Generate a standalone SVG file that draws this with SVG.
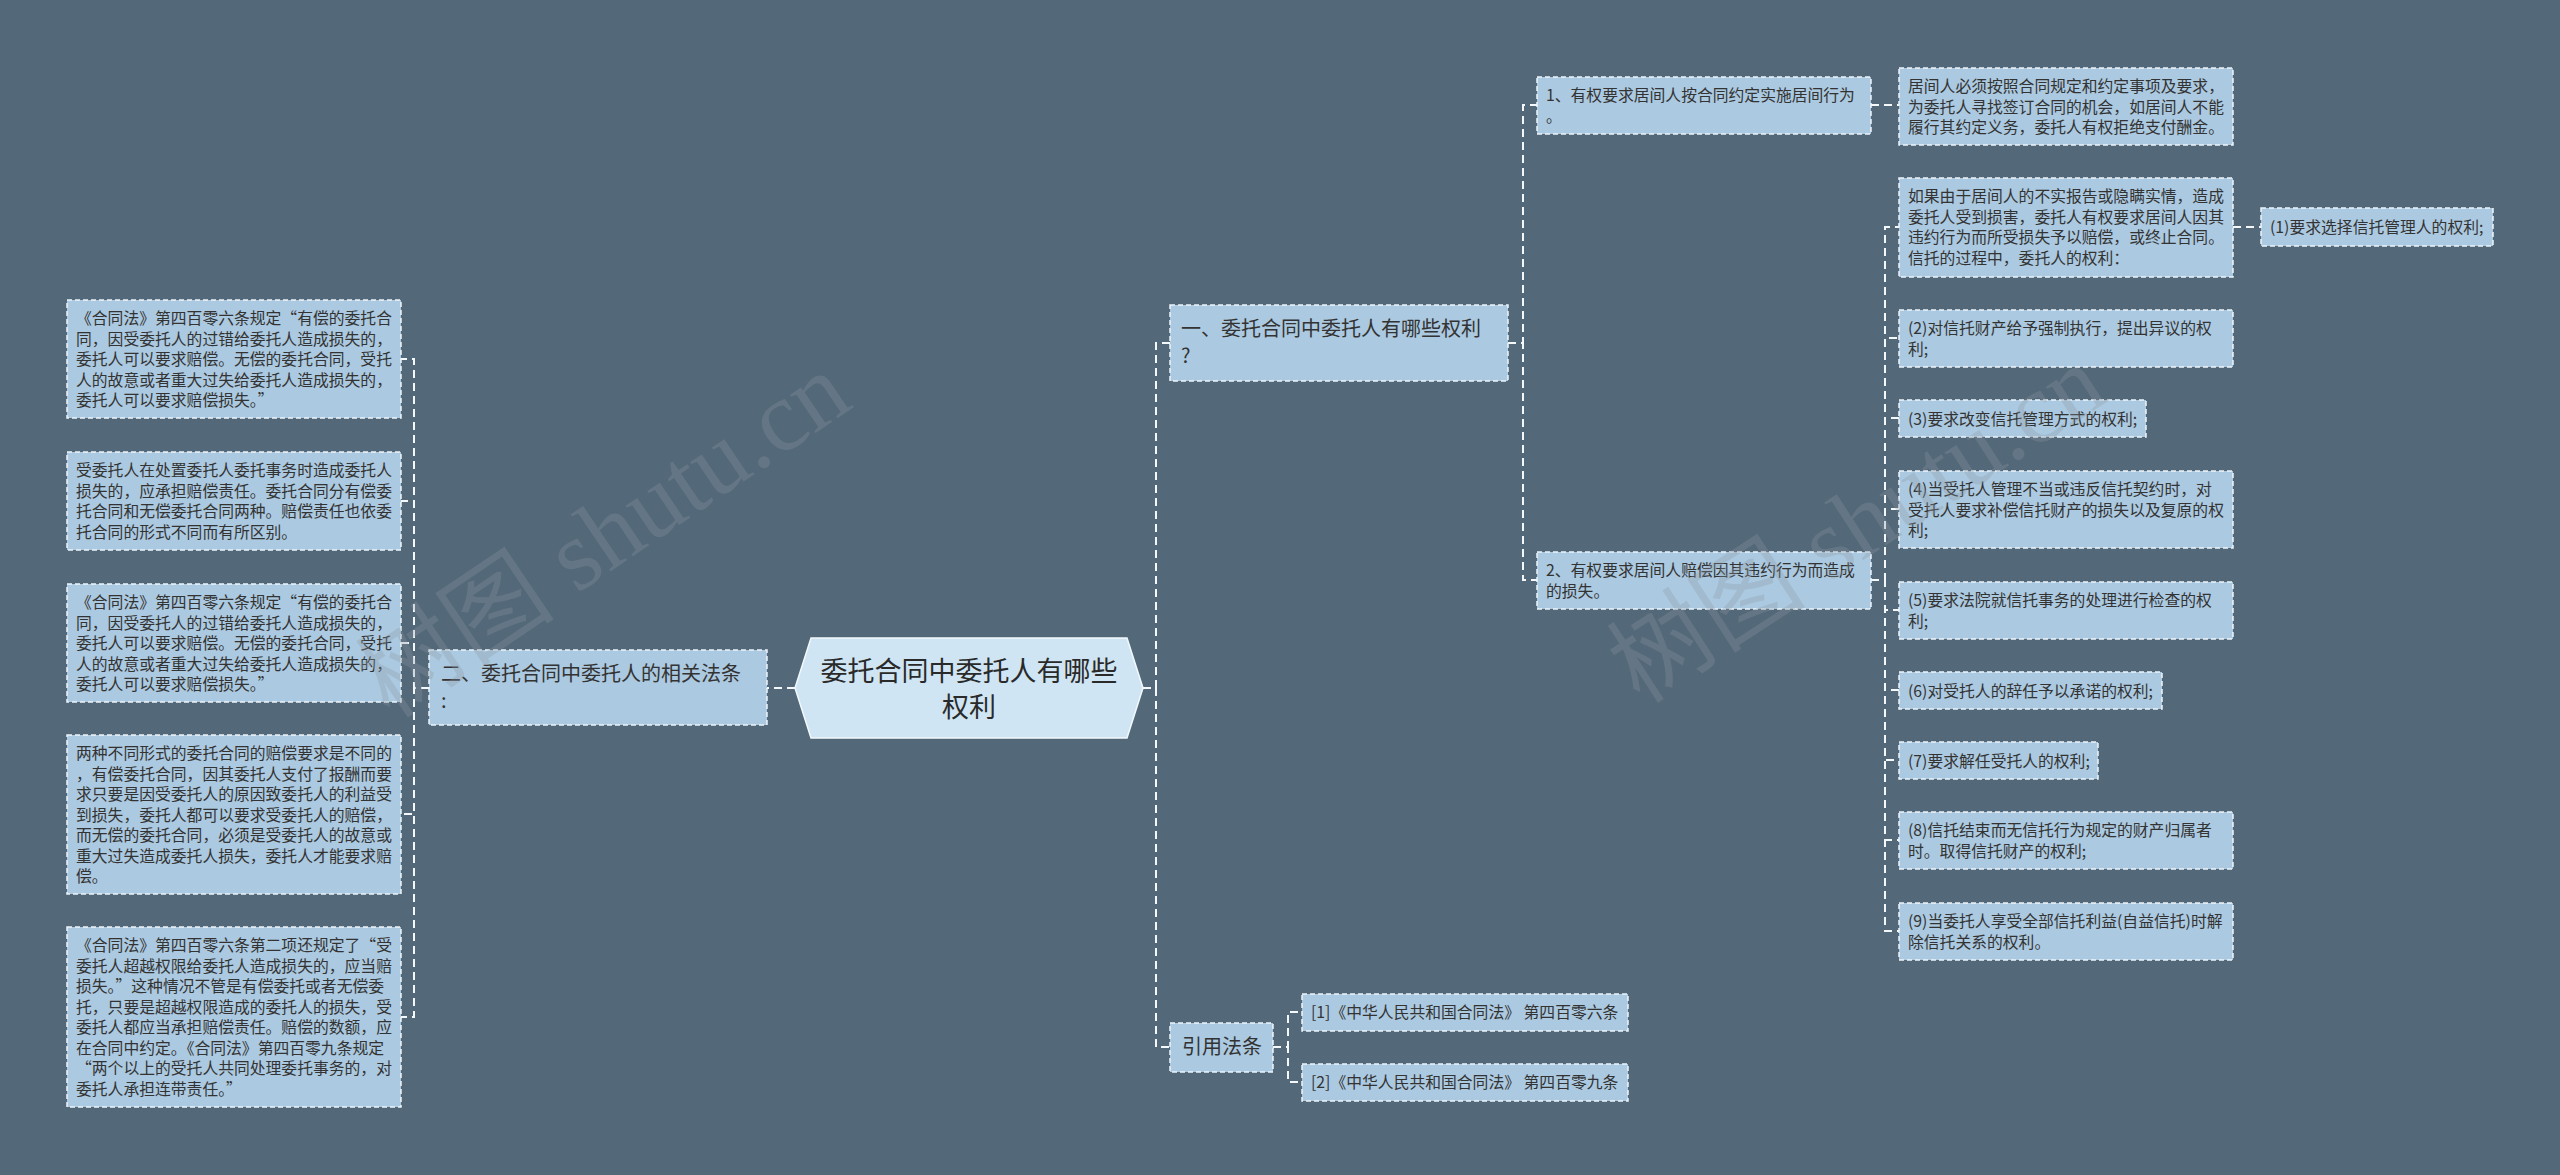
<svg xmlns="http://www.w3.org/2000/svg" width="2560" height="1175" viewBox="0 0 2560 1175">
<style>
.bg{fill:#536878}
.box{fill:#abc9e0;stroke:#eef4f9;stroke-width:1.5;stroke-dasharray:5 3}
.root{fill:#cfe5f3;stroke:#f2f8fc;stroke-width:1.5}
.t{font-family:"Noto Sans CJK SC","Noto Sans",sans-serif;fill:#333333}
.leaf{font-size:15.8px}
.ref{font-size:15.8px}
.br{font-size:20px}
.rt{font-size:27px;fill:#2a2a2a}
.conn path{fill:none;stroke:#f4f8fb;stroke-width:2;stroke-dasharray:8 5}
.wm{font-family:"Liberation Serif","Noto Sans CJK SC",serif;font-size:100px;fill:#8d99a3;opacity:0.3}
</style>
<rect class="bg" x="0" y="0" width="2560" height="1175"/>

<g id="connectors" class="conn">
<path d="M795,688 H767"/>
<path d="M429,688 H414 V359 H401"/>
<path d="M429,688 H414 V501 H401"/>
<path d="M429,688 H414 V643 H401"/>
<path d="M429,688 H414 V814 H401"/>
<path d="M429,688 H414 V1017 H401"/>
<path d="M1143,688 H1156 V343 H1170"/>
<path d="M1143,688 H1156 V1047 H1170"/>
<path d="M1508,343 H1523 V105 H1537"/>
<path d="M1508,343 H1523 V580 H1537"/>
<path d="M1871,105 H1899"/>
<path d="M1871,580 H1885 V227 H1899"/>
<path d="M1871,580 H1885 V338 H1899"/>
<path d="M1871,580 H1885 V418 H1899"/>
<path d="M1871,580 H1885 V509 H1899"/>
<path d="M1871,580 H1885 V610 H1899"/>
<path d="M1871,580 H1885 V690 H1899"/>
<path d="M1871,580 H1885 V760 H1899"/>
<path d="M1871,580 H1885 V840 H1899"/>
<path d="M1871,580 H1885 V931 H1899"/>
<path d="M2233,227 H2261"/>
<path d="M1273,1047 H1288 V1012 H1302"/>
<path d="M1273,1047 H1288 V1082 H1302"/>
</g>

<g id="root">
<polygon class="root" points="795,688 811,638 1127,638 1143,688 1127,738 811,738"/>
<text class="t rt" text-anchor="middle"><tspan x="969" y="681">委托合同中委托人有哪些</tspan><tspan x="969" y="717">权利</tspan></text>
</g>

<g id="branch-left">
<rect class="box" x="429" y="650" width="338" height="75"/>
<text class="t br"><tspan x="441" y="681">二、委托合同中委托人的相关法条</tspan><tspan x="441" y="708">:</tspan></text>
</g>

<g id="left-leaf-1">
<rect class="box" x="67" y="300" width="334" height="118"/>
<text class="t leaf"><tspan x="76" y="324">《合同法》第四百零六条规定“有偿的委托合</tspan><tspan x="76" y="344.5">同，因受委托人的过错给委托人造成损失的，</tspan><tspan x="76" y="365">委托人可以要求赔偿。无偿的委托合同，受托</tspan><tspan x="76" y="385.5">人的故意或者重大过失给委托人造成损失的，</tspan><tspan x="76" y="406">委托人可以要求赔偿损失。”</tspan></text>
</g>
<g id="left-leaf-2">
<rect class="box" x="67" y="452" width="334" height="98"/>
<text class="t leaf"><tspan x="76" y="476">受委托人在处置委托人委托事务时造成委托人</tspan><tspan x="76" y="496.5">损失的，应承担赔偿责任。委托合同分有偿委</tspan><tspan x="76" y="517">托合同和无偿委托合同两种。赔偿责任也依委</tspan><tspan x="76" y="537.5">托合同的形式不同而有所区别。</tspan></text>
</g>
<g id="left-leaf-3">
<rect class="box" x="67" y="584" width="334" height="118"/>
<text class="t leaf"><tspan x="76" y="608">《合同法》第四百零六条规定“有偿的委托合</tspan><tspan x="76" y="628.5">同，因受委托人的过错给委托人造成损失的，</tspan><tspan x="76" y="649">委托人可以要求赔偿。无偿的委托合同，受托</tspan><tspan x="76" y="669.5">人的故意或者重大过失给委托人造成损失的，</tspan><tspan x="76" y="690">委托人可以要求赔偿损失。”</tspan></text>
</g>
<g id="left-leaf-4">
<rect class="box" x="67" y="735" width="334" height="159"/>
<text class="t leaf"><tspan x="76" y="759">两种不同形式的委托合同的赔偿要求是不同的</tspan><tspan x="76" y="779.5">，有偿委托合同，因其委托人支付了报酬而要</tspan><tspan x="76" y="800">求只要是因受委托人的原因致委托人的利益受</tspan><tspan x="76" y="820.5">到损失，委托人都可以要求受委托人的赔偿，</tspan><tspan x="76" y="841">而无偿的委托合同，必须是受委托人的故意或</tspan><tspan x="76" y="861.5">重大过失造成委托人损失，委托人才能要求赔</tspan><tspan x="76" y="882">偿。</tspan></text>
</g>
<g id="left-leaf-5">
<rect class="box" x="67" y="927" width="334" height="180"/>
<text class="t leaf"><tspan x="76" y="951">《合同法》第四百零六条第二项还规定了“受</tspan><tspan x="76" y="971.5">委托人超越权限给委托人造成损失的，应当赔</tspan><tspan x="76" y="992">损失。”这种情况不管是有偿委托或者无偿委</tspan><tspan x="76" y="1012.5">托，只要是超越权限造成的委托人的损失，受</tspan><tspan x="76" y="1033">委托人都应当承担赔偿责任。赔偿的数额，应</tspan><tspan x="76" y="1053.5">在合同中约定。《合同法》第四百零九条规定</tspan><tspan x="76" y="1074">“两个以上的受托人共同处理委托事务的，对</tspan><tspan x="76" y="1094.5">委托人承担连带责任。”</tspan></text>
</g>

<g id="branch-1">
<rect class="box" x="1170" y="305" width="338" height="76"/>
<text class="t br"><tspan x="1181" y="336">一、委托合同中委托人有哪些权利</tspan><tspan x="1181" y="363">?</tspan></text>
</g>
<g id="node-1-1">
<rect class="box" x="1537" y="77" width="334" height="57"/>
<text class="t leaf"><tspan x="1546" y="101">1、有权要求居间人按合同约定实施居间行为</tspan><tspan x="1546" y="121.5">。</tspan></text>
</g>
<g id="node-1-1-a">
<rect class="box" x="1899" y="68" width="334" height="77"/>
<text class="t leaf"><tspan x="1908" y="92">居间人必须按照合同规定和约定事项及要求，</tspan><tspan x="1908" y="112.5">为委托人寻找签订合同的机会，如居间人不能</tspan><tspan x="1908" y="133">履行其约定义务，委托人有权拒绝支付酬金。</tspan></text>
</g>
<g id="node-1-2">
<rect class="box" x="1537" y="552" width="334" height="57"/>
<text class="t leaf"><tspan x="1546" y="576">2、有权要求居间人赔偿因其违约行为而造成</tspan><tspan x="1546" y="596.5">的损失。</tspan></text>
</g>
<g id="node-1-2-a">
<rect class="box" x="1899" y="178" width="334" height="99"/>
<text class="t leaf"><tspan x="1908" y="202">如果由于居间人的不实报告或隐瞒实情，造成</tspan><tspan x="1908" y="222.5">委托人受到损害，委托人有权要求居间人因其</tspan><tspan x="1908" y="243">违约行为而所受损失予以赔偿，或终止合同。</tspan><tspan x="1908" y="263.5">信托的过程中，委托人的权利：</tspan></text>
</g>
<g id="node-r1">
<rect class="box" x="2261" y="208" width="232" height="38"/>
<text class="t leaf"><tspan x="2270" y="233">(1)要求选择信托管理人的权利;</tspan></text>
</g>
<g id="node-r2">
<rect class="box" x="1899" y="310" width="334" height="57"/>
<text class="t leaf"><tspan x="1908" y="334">(2)对信托财产给予强制执行，提出异议的权</tspan><tspan x="1908" y="354.5">利;</tspan></text>
</g>
<g id="node-r3">
<rect class="box" x="1899" y="400" width="247" height="37"/>
<text class="t leaf"><tspan x="1908" y="424.5">(3)要求改变信托管理方式的权利;</tspan></text>
</g>
<g id="node-r4">
<rect class="box" x="1899" y="471" width="334" height="77"/>
<text class="t leaf"><tspan x="1908" y="495">(4)当受托人管理不当或违反信托契约时，对</tspan><tspan x="1908" y="515.5">受托人要求补偿信托财产的损失以及复原的权</tspan><tspan x="1908" y="536">利;</tspan></text>
</g>
<g id="node-r5">
<rect class="box" x="1899" y="582" width="334" height="57"/>
<text class="t leaf"><tspan x="1908" y="606">(5)要求法院就信托事务的处理进行检查的权</tspan><tspan x="1908" y="626.5">利;</tspan></text>
</g>
<g id="node-r6">
<rect class="box" x="1899" y="672" width="263" height="37"/>
<text class="t leaf"><tspan x="1908" y="696.5">(6)对受托人的辞任予以承诺的权利;</tspan></text>
</g>
<g id="node-r7">
<rect class="box" x="1899" y="742" width="199" height="37"/>
<text class="t leaf"><tspan x="1908" y="766.5">(7)要求解任受托人的权利;</tspan></text>
</g>
<g id="node-r8">
<rect class="box" x="1899" y="812" width="334" height="57"/>
<text class="t leaf"><tspan x="1908" y="836">(8)信托结束而无信托行为规定的财产归属者</tspan><tspan x="1908" y="856.5">时。取得信托财产的权利;</tspan></text>
</g>
<g id="node-r9">
<rect class="box" x="1899" y="903" width="334" height="57"/>
<text class="t leaf"><tspan x="1908" y="927">(9)当委托人享受全部信托利益(自益信托)时解</tspan><tspan x="1908" y="947.5">除信托关系的权利。</tspan></text>
</g>

<g id="branch-3">
<rect class="box" x="1170" y="1023" width="103" height="49"/>
<text class="t br"><tspan x="1182" y="1054">引用法条</tspan></text>
</g>
<g id="ref-1">
<rect class="box" x="1302" y="994" width="326" height="37"/>
<text class="t ref"><tspan x="1311" y="1018">[1]《中华人民共和国合同法》 第四百零六条</tspan></text>
</g>
<g id="ref-2">
<rect class="box" x="1302" y="1064" width="326" height="37"/>
<text class="t ref"><tspan x="1311" y="1088">[2]《中华人民共和国合同法》 第四百零九条</tspan></text>
</g>

<text class="wm" transform="translate(390,720) rotate(-34)">树图 shutu.cn</text>
<text class="wm" transform="translate(1640,705) rotate(-33)">树图 shutu.cn</text>
</svg>
